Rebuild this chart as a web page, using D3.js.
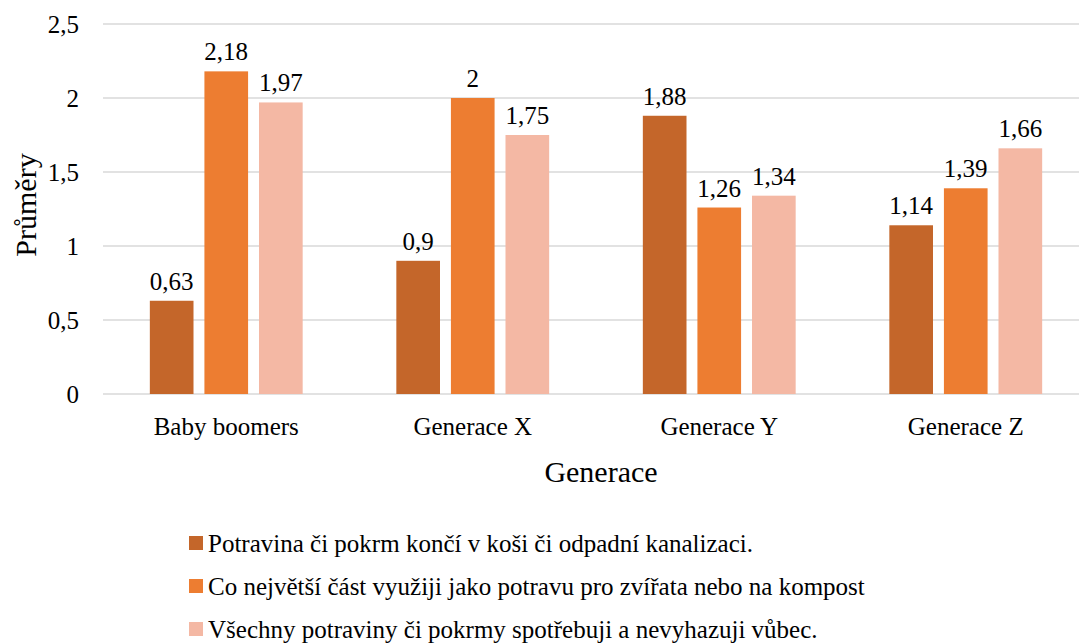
<!DOCTYPE html>
<html>
<head>
<meta charset="utf-8">
<script src="https://cdn.jsdelivr.net/npm/d3@7"></script>
<style>
  body { margin: 0; background: #fff; }
</style>
</head>
<body>
<svg id="chart" width="1079" height="644"></svg>
<script>
var categories = ["Baby boomers", "Generace X", "Generace Y", "Generace Z"];
var seriesNames = [
    "Potravina či pokrm končí v koši či odpadní kanalizaci.",
    "Co největší část využiji jako potravu pro zvířata nebo na kompost",
    "Všechny potraviny či pokrmy spotřebuji a nevyhazuji vůbec."
];
var series1 = [0.63, 0.9, 1.88, 1.14];
var series2 = [2.18, 2, 1.26, 1.39];
var series3 = [1.97, 1.75, 1.34, 1.66];
var yTicks = [0, 0.5, 1, 1.5, 2, 2.5];
var colors = ["#C4662A", "#ED7D31", "#F4B8A4"];

var allSeries = [series1, series2, series3];
var svg = d3.select('#chart');
var FONT = "'Liberation Serif', 'Times New Roman', Times, serif";

var x = d3.scaleBand().domain(categories).range([103, 1089]).paddingInner(0.38).paddingOuter(0.19);
var xs = d3.scaleBand().domain([0, 1, 2]).range([0, x.bandwidth()]).paddingInner(0.2);
var y = d3.scaleLinear().domain([0, 2.5]).range([394, 24]);

var fmt = v => String(v).replace('.', ',');

// gridlines
svg.append('g')
    .selectAll('line')
    .data(yTicks)
    .enter()
    .append('line')
    .attr('x1', 103).attr('x2', 1079)
    .attr('y1', d => y(d)).attr('y2', d => y(d))
    .attr('stroke', '#d9d9d9').attr('stroke-width', 1.5);

// y tick labels
svg.append('g')
    .selectAll('text')
    .data(yTicks)
    .enter()
    .append('text')
    .attr('x', 79)
    .attr('y', d => y(d) + 9)
    .attr('text-anchor', 'end')
    .style('font-family', FONT)
    .style('font-size', '25px')
    .text(d => fmt(d));

// bars
let groups = svg.selectAll('g.cat')
    .data(categories)
    .enter()
    .append('g')
    .attr('class', 'cat')
    .attr('transform', d => `translate(${x(d)},0)`);

groups.each(function(c, ci) {
    var g = d3.select(this);
    allSeries.forEach((s, si) => {
        g.append('rect')
            .attr('x', xs(si))
            .attr('y', y(s[ci]))
            .attr('width', xs.bandwidth())
            .attr('height', y(0) - y(s[ci]))
            .attr('fill', colors[si]);
        g.append('text')
            .attr('x', xs(si) + xs.bandwidth() / 2)
            .attr('y', y(s[ci]) - 11)
            .attr('text-anchor', 'middle')
            .style('font-family', FONT)
            .style('font-size', '25px')
            .text(fmt(s[ci]));
    });
});

// x labels
svg.append('g')
    .selectAll('text')
    .data(categories)
    .enter()
    .append('text')
    .attr('x', d => x(d) + x.bandwidth() / 2)
    .attr('y', 435)
    .attr('text-anchor', 'middle')
    .style('font-family', FONT)
    .style('font-size', '25px')
    .text(d => d);

// axis titles
svg.append('text')
    .attr('x', 601).attr('y', 482)
    .attr('text-anchor', 'middle')
    .style('font-family', FONT)
    .style('font-size', '30px')
    .text('Generace');

svg.append('text')
    .attr('transform', 'translate(36,205) rotate(-90)')
    .attr('text-anchor', 'middle')
    .style('font-family', FONT)
    .style('font-size', '30px')
    .text('Průměry');

// legend
let legend = svg.selectAll('g.leg')
    .data(seriesNames)
    .enter()
    .append('g')
    .attr('class', 'leg')
    .attr('transform', (d, i) => `translate(189,${543 + i * 43})`);

legend.append('rect')
    .attr('x', 0).attr('y', -7)
    .attr('width', 14).attr('height', 14)
    .attr('fill', (d, i) => colors[i]);

legend.append('text')
    .attr('x', 19).attr('y', 9)
    .style('font-family', FONT)
    .style('font-size', '25px')
    .text(d => d);
</script>
</body>
</html>
